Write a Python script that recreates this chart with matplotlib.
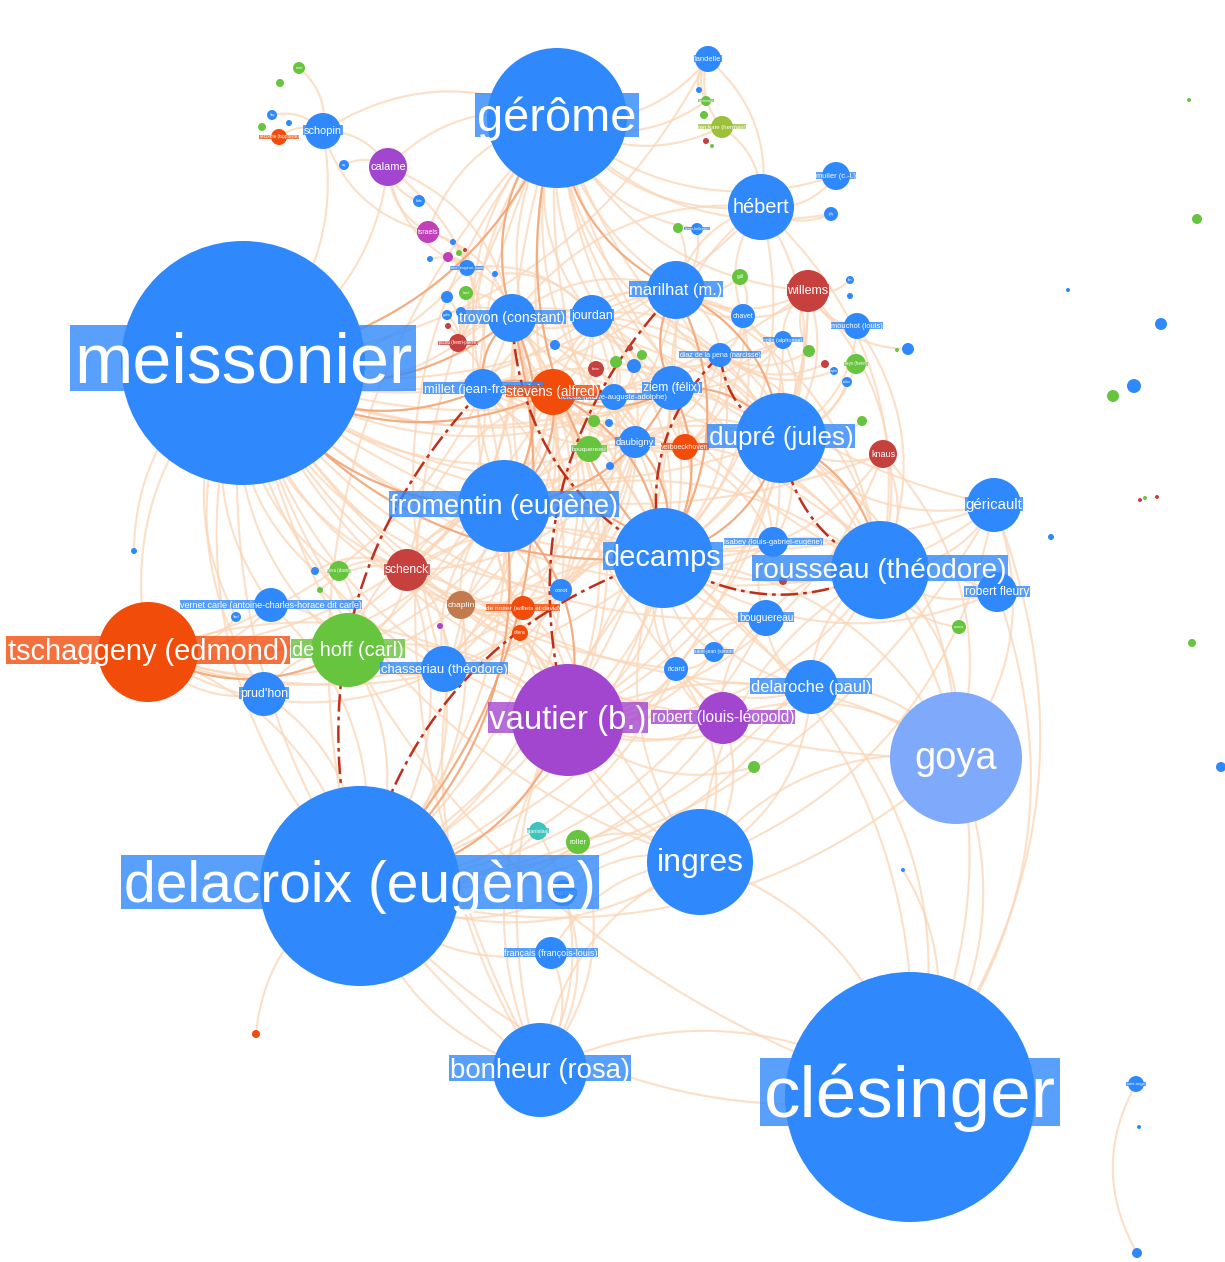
import numpy as np
import matplotlib.pyplot as plt
from matplotlib.patches import Circle, Rectangle
from matplotlib.collections import LineCollection

plt.rcParams['font.family'] = ['Liberation Sans', 'DejaVu Sans']

# group colours (gephi-style modularity classes)
palette = {
    'blue': '#2f89fc', 'orange': '#f24c0b', 'purple': '#a346cf',
    'green': '#67c43f', 'red': '#c6403d', 'lightblue': '#7fa9fb',
    'magenta': '#bf40b9', 'brown': '#c27a4e', 'teal': '#3ec4bd',
    'olive': '#9dc03b',
}

# nodes: (id, label, x, y, radius, group, label size px)  -- layout coords in px
nodes_major = [
    ('mei', 'meissonier', 243, 363, 122, 'blue', 70),
    ('ger', 'gérôme', 557, 118, 70, 'blue', 47),
    ('del', 'delacroix (eugène)', 360, 886, 100, 'blue', 57),
    ('cle', 'clésinger', 910, 1097, 125, 'blue', 73),
    ('goy', 'goya', 956, 758, 66, 'lightblue', 38),
    ('vau', 'vautier (b.)', 568, 720, 56, 'purple', 33),
    ('tsc', 'tschaggeny (edmond)', 148, 652, 50, 'orange', 29),
    ('dec', 'decamps', 663, 558, 50, 'blue', 29),
    ('rou', 'rousseau (théodore)', 880, 570, 49, 'blue', 28),
    ('dup', 'dupré (jules)', 781, 438, 45, 'blue', 26),
    ('fro', 'fromentin (eugène)', 504, 506, 46, 'blue', 27),
    ('ing', 'ingres', 700, 862, 53, 'blue', 32),
    ('bon', 'bonheur (rosa)', 540, 1070, 47, 'blue', 27.5),
]

nodes_mid = [
    ('heb', 'hébert', 761, 207, 33, 'blue', 20),
    ('hof', 'de hoff (carl)', 348, 650, 37, 'green', 20),
    ('mar', 'marilhat (m.)', 676, 290, 29, 'blue', 16.5),
    ('dlr', 'delaroche (paul)', 811, 687, 27, 'blue', 16.5),
    ('gri', 'géricault', 994, 505, 27, 'blue', 15),
    ('rll', 'robert (louis-léopold)', 723, 718, 26, 'purple', 15.5),
    ('tro', 'troyon (constant)', 512, 318, 24, 'blue', 14),
    ('ste', 'stevens (alfred)', 553, 392, 23, 'orange', 13.5),
    ('cha', 'chasseriau (théodore)', 444, 669, 23, 'blue', 13),
    ('mil', 'millet (jean-françois)', 483, 389, 20, 'blue', 13),
    ('jou', 'jourdan', 592, 316, 21, 'blue', 12.5),
    ('zie', 'ziem (félix)', 672, 388, 22, 'blue', 12),
    ('wil', 'willems', 808, 291, 21, 'red', 12.5),
    ('sck', 'schenck', 407, 570, 21, 'red', 12),
    ('pru', "prud'hon", 264, 694, 22, 'blue', 12.4),
    ('rfl', 'robert fleury', 997, 592, 20, 'blue', 12),
    ('cal', 'calame', 388, 167, 19, 'purple', 11),
    ('sch', 'schopin', 323, 131, 18, 'blue', 11),
    ('bou', 'bouguereau', 766, 618, 18, 'blue', 10.3),
    ('dau', 'daubigny', 635, 442, 16, 'blue', 9.4),
    ('ver', 'vernet carle (antoine-charles-horace dit carle)', 271, 605, 17, 'blue', 9),
    ('fra', 'français (françois-louis)', 551, 953, 16, 'blue', 9),
    ('chp', 'chaplin', 461, 605, 14, 'brown', 8.5),
    ('kna', 'knaus', 883, 454, 14, 'red', 9),
]

nodes_small = [
    ('isa', 'isabey (louis-gabriel-eugène)', 773, 542, 15, 'blue', 7.5),
    ('mul', 'muller (c.-l.)', 836, 176, 14, 'blue', 7.5),
    ('lan', 'landelle', 708, 59, 13, 'blue', 7.5),
    ('mou', 'mouchot (louis)', 857, 326, 13, 'blue', 7.5),
    ('dia', 'diaz de la pena (narcisse)', 720, 355, 12, 'blue', 7),
    ('lel', 'leleux (pierre-auguste-adolphe)', 614, 397, 13, 'blue', 7.5),
    ('vbo', 'verboeckhoven', 685, 447, 13, 'orange', 7),
    ('bqg', 'bouquereau', 589, 449, 13, 'green', 6.5),
    ('not', 'de notter (willets et david)', 523, 608, 12, 'orange', 6.5),
    ('cor', 'corot', 561, 590, 11, 'blue', 6),
    ('ric', 'ricard', 676, 669, 12, 'blue', 7),
    ('sjn', 'saint-jean (simon)', 714, 652, 10, 'blue', 5),
    ('chv', 'chavet', 743, 316, 12, 'blue', 7),
    ('rol', 'roller', 578, 842, 12, 'green', 7.5),
    ('sta', 'stanislas', 538, 831, 9, 'teal', 5.5),
    ('cou', 'courbet', 563, 893, 13, 'blue', 8),
    ('isr', 'israels', 428, 232, 11, 'magenta', 7),
    ('ten', 'ten kate (herman)', 722, 127, 11, 'olive', 6),
    ('oll', 'ollens', 520, 633, 8, 'orange', 4.5),
    ('col', 'colin (alphonse)', 783, 340, 9, 'blue', 5.5),
    ('ley', 'leys (henri)', 856, 364, 10, 'green', 4.5),
    ('gal', 'gall', 740, 277, 8, 'green', 4.5),
    ('cam', 'camus', 959, 627, 7, 'green', 3.5),
    ('lec', 'lecomte (hippolyte)', 279, 137, 8, 'orange', 4.5),
    ('bid', 'bida', 419, 201, 6, 'blue', 3.5),
    ('lam', 'lami (eugène-louis)', 467, 268, 8, 'blue', 4),
    ('pic', 'picou (henri-pierre)', 458, 343, 9, 'red', 4.5),
    ('dav', 'rosa (david)', 339, 571, 10, 'green', 4.5),
    ('joly', 'joly', 831, 214, 7, 'blue', 3.5),
    ('ber', 'berne-bellecour', 697, 229, 6, 'blue', 3.5),
    ('sai', 'saint-ange', 1136, 1084, 8, 'blue', 4),
    ('r35', 'brion', 596, 369, 8, 'red', 3.5),
    ('g01', 'rosier', 299, 68, 6, 'green', 3),
    ('b03', 'lévy', 272, 115, 5, 'blue', 3),
    ('b06', 'ary', 344, 165, 5, 'blue', 3),
    ('g09', 'biard', 466, 293, 7, 'green', 3),
    ('b11', 'gudin', 447, 315, 5, 'blue', 3),
    ('b13', 'lies', 850, 280, 4, 'blue', 3),
    ('b17', 'roybet', 834, 371, 4, 'blue', 3),
    ('b18', 'vollon', 847, 382, 5, 'blue', 3),
    ('g24', 'kaemmerer', 706, 101, 5, 'green', 3),
    ('b30', 'lebel', 236, 617, 5, 'blue', 3),
]

# unlabelled outliers / tiny nodes
nodes_tiny = [
    ('g02', '', 280, 83, 4, 'green', 0), ('g04', '', 262, 127, 4, 'green', 0),
    ('b05', '', 289, 123, 3, 'blue', 0), ('b07', '', 453, 242, 3, 'blue', 0),
    ('m08', '', 448, 257, 5, 'magenta', 0), ('b10', '', 447, 297, 6, 'blue', 0),
    ('b12', '', 430, 259, 3, 'blue', 0), ('g60', '', 459, 253, 3, 'green', 0),
    ('r61', '', 465, 250, 2, 'red', 0), ('b62', '', 495, 274, 3, 'blue', 0),
    ('b14', '', 850, 296, 3, 'blue', 0), ('g15', '', 809, 351, 6, 'green', 0),
    ('r16', '', 825, 364, 4, 'red', 0), ('b19', '', 908, 349, 6, 'blue', 0),
    ('g20', '', 897, 350, 2, 'green', 0), ('g21', '', 862, 421, 5, 'green', 0),
    ('g22', '', 754, 767, 6, 'green', 0), ('g23', '', 678, 228, 5, 'green', 0),
    ('g25', '', 704, 115, 4, 'green', 0), ('b26', '', 699, 90, 3, 'blue', 0),
    ('r27', '', 706, 141, 3, 'red', 0), ('g28', '', 712, 146, 2, 'green', 0),
    ('b29', '', 315, 571, 4, 'blue', 0), ('p31', '', 440, 626, 3, 'purple', 0),
    ('g32', '', 320, 590, 3, 'green', 0), ('b33', '', 134, 551, 3, 'blue', 0),
    ('o34', '', 256, 1034, 4, 'orange', 0), ('g36', '', 616, 362, 6, 'green', 0),
    ('b37', '', 634, 366, 7, 'blue', 0), ('g38', '', 642, 355, 5, 'green', 0),
    ('b39', '', 555, 345, 5, 'blue', 0), ('r40', '', 630, 348, 3, 'red', 0),
    ('g41', '', 594, 421, 6, 'green', 0), ('b42', '', 609, 423, 4, 'blue', 0),
    ('b43', '', 610, 466, 4, 'blue', 0), ('r44', '', 783, 581, 4, 'red', 0),
    ('b63', '', 461, 312, 5, 'blue', 0), ('r64', '', 448, 326, 3, 'red', 0),
    ('g45', '', 1197, 219, 5, 'green', 0), ('b46', '', 1161, 324, 6, 'blue', 0),
    ('b47', '', 1134, 386, 7, 'blue', 0), ('g48', '', 1113, 396, 6, 'green', 0),
    ('b49', '', 1068, 290, 2, 'blue', 0), ('b50', '', 1051, 537, 3, 'blue', 0),
    ('g51', '', 1192, 643, 4, 'green', 0), ('b52', '', 1221, 767, 5, 'blue', 0),
    ('b53', '', 1137, 1253, 5, 'blue', 0), ('b54', '', 1139, 1127, 2, 'blue', 0),
    ('b55', '', 903, 870, 2, 'blue', 0), ('r56', '', 1140, 500, 2, 'red', 0),
    ('g57', '', 1145, 498, 2, 'green', 0), ('r58', '', 1157, 497, 2, 'red', 0),
    ('g59', '', 1189, 100, 2, 'green', 0),
]

# co-occurrence links: hub -> neighbours
links = [
    ('mei', 'ger del cle goy vau tsc dec rou dup fro ing bon heb hof mar dlr tro ste cha mil '
            'jou zie wil sck pru cal sch bou dau ver chp isa lan dia cor ric col pic lam rll gri '
            'kna b29 b30 b33 dav'),
    ('ger', 'del vau dec rou dup fro ing bon heb mar dlr tro ste mil jou zie wil cal sch '
            'isr lan ten mul chv dia dau gri rfl rll cha joly ber g24'),
    ('del', 'cle goy vau tsc dec rou dup fro ing bon hof mar dlr tro ste cha mil zie sck pru ver '
            'fra chp rol sta cou gri rll bou cor ric o34'),
    ('cle', 'goy ing bon dlr gri rfl rou dec b55'),
    ('goy', 'rou dup ing dlr gri rll vau dec kna'),
    ('vau', 'tsc dec rou dup fro ing bon hof tro ste cha zie sck rll chp not oll ric dlr kna wil sjn g22'),
    ('tsc', 'dec fro hof tro ste cha sck pru ver chp not b30'),
    ('dec', 'rou dup fro ing bon mar dlr tro ste cha mil jou zie wil sck bou dau isa dia lel vbo '
            'rfl gri kna chv col heb rll ric sjn cor'),
    ('rou', 'dup fro ing mar dlr tro mil zie gri rfl bou isa kna dia dau wil heb mou cam r44'),
    ('dup', 'fro mar tro mil zie wil dau dia kna heb chv col mou gri vbo jou ley b18 g21'),
    ('fro', 'ing bon hof mar tro ste cha mil jou zie sck dau bqg lel cor chp not'),
    ('ing', 'bon dlr gri rll fra rol cou ric'),
    ('bon', 'fra rol cou sta'),
    ('heb', 'mar mul chv lan ten tro zie joly'),
    ('hof', 'tro ste cha sck ver pru dav g32'),
    ('mar', 'tro ste mil jou zie chv dia gal wil ber g23'),
    ('tro', 'ste mil jou zie dau isr cal pic lam g09 col b11'),
    ('ste', 'mil jou zie lel dau bqg vbo sck r35'),
    ('mil', 'jou zie dau cal pic'),
    ('zie', 'dau lel vbo dia col b37'),
    ('cal', 'sch isr lam b06 bid'),
    ('sch', 'lec b03 g01 isr'),
    ('wil', 'mou col b13 g15 b19'),
    ('lan', 'ten g24 b26'),
    ('cha', 'sck chp not cor tro ste dau oll p31'),
    ('sck', 'chp not cor tro ste mil dav b29 g32 dau'),
    ('chp', 'not cor ste tro dau oll'),
    ('not', 'cor oll ste dau'),
    ('cor', 'ste dau tro mil jou lel'),
    ('dau', 'lel vbo bqg jou g41 b42 b43 dia'),
    ('lel', 'vbo bqg jou r35 g36 b37 g38 b39'),
    ('vbo', 'bqg jou dia chv'),
    ('isa', 'bou dup zie dau dia r44'),
    ('bou', 'dlr rll ric sjn'),
    ('ric', 'sjn rll dlr'),
    ('dia', 'chv col jou mar g15 r16 b17'),
    ('chv', 'col gal jou wil'),
    ('jou', 'lam pic b62 r40'),
    ('pic', 'lam b63 r64 b10 b11 g09'),
    ('lam', 'b07 m08 b12 g60 r61 isr'),
    ('sai', 'b53'),
]

medium_links = [
    ('mei', 'ger'), ('mei', 'dec'), ('mei', 'fro'), ('mei', 'tro'), ('mei', 'ste'),
    ('ger', 'dec'), ('ger', 'mar'), ('ger', 'tro'), ('del', 'fro'), ('del', 'vau'),
    ('dec', 'dup'), ('dec', 'zie'), ('dec', 'ste'), ('dec', 'fro'), ('rou', 'dup'),
    ('fro', 'ste'), ('fro', 'tro'), ('tro', 'mil'), ('ste', 'mil'), ('dup', 'zie'),
    ('mar', 'zie'), ('vau', 'fro'), ('tsc', 'hof'), ('dec', 'dau'), ('ste', 'zie'),
    ('dup', 'mar'), ('dec', 'mar'), ('del', 'tro'), ('mei', 'mil'), ('fro', 'zie'),
]

strong_links = [
    ('mil', 'del'), ('tro', 'dec'), ('mar', 'vau'), ('dec', 'rou'),
    ('dup', 'rou'), ('dia', 'dec'), ('dia', 'dup'), ('dec', 'del'),
]

nodes = nodes_major + nodes_mid + nodes_small + nodes_tiny
pos = {n[0]: np.array([n[2], n[3]], dtype=float) for n in nodes}


def arc(a, b, bend=0.28, n=40):
    p, q = pos[a], pos[b]
    d = q - p
    c = (p + q) / 2 + bend * np.array([-d[1], d[0]])
    t = np.linspace(0, 1, n)[:, None]
    return (1 - t) ** 2 * p + 2 * (1 - t) * t * c + t ** 2 * q


light = [arc(hub, nb) for hub, nbs in links for nb in nbs.split()]
medium = [arc(a, b) for a, b in medium_links]
strong = [arc(a, b) for a, b in strong_links]

fig = plt.figure(figsize=(12.25, 12.62), dpi=100)
ax = fig.add_axes([0, 0, 1, 1])
ax.set_xlim(0, 1225)
ax.set_ylim(1262, 0)
ax.axis('off')

ax.add_collection(LineCollection(light, colors='#fcd5b5', linewidths=1.5, alpha=0.75, zorder=1))
ax.add_collection(LineCollection(medium, colors='#f2a070', linewidths=1.5, alpha=0.8, zorder=1.5))
ax.add_collection(LineCollection(strong, colors='#bf2f1c', linewidths=1.8,
                                 linestyles=[(0, (7, 2, 1.5, 2))], zorder=1.8))

# nodes, big first so small ones stay visible
for nid, lab, x, y, r, grp, fpx in sorted(nodes, key=lambda n: -n[4]):
    ax.add_patch(Circle((x, y), r, facecolor=palette[grp], edgecolor='none', zorder=3))

# labels, small first so big labels sit on top
labelled = sorted([n for n in nodes if n[1]], key=lambda n: n[6])
texts = []
for i, (nid, lab, x, y, r, grp, fpx) in enumerate(labelled):
    z = 4 + i * 0.01
    base = y + 0.28 * fpx
    t = ax.text(x, base, lab, ha='center', va='baseline', color='white',
                fontsize=fpx * 0.72, zorder=z)
    texts.append((t, x, base, grp, fpx, z))

fig.canvas.draw()
renderer = fig.canvas.get_renderer()
for t, x, base, grp, fpx, z in texts:
    w = t.get_window_extent(renderer).width + 0.1 * fpx
    ax.add_patch(Rectangle((x - w / 2, base - 0.82 * fpx), w, 0.94 * fpx,
                           facecolor=palette[grp], edgecolor='none', alpha=0.8,
                           zorder=z - 0.005))

fig.savefig('out.png', dpi=100, facecolor='white')
